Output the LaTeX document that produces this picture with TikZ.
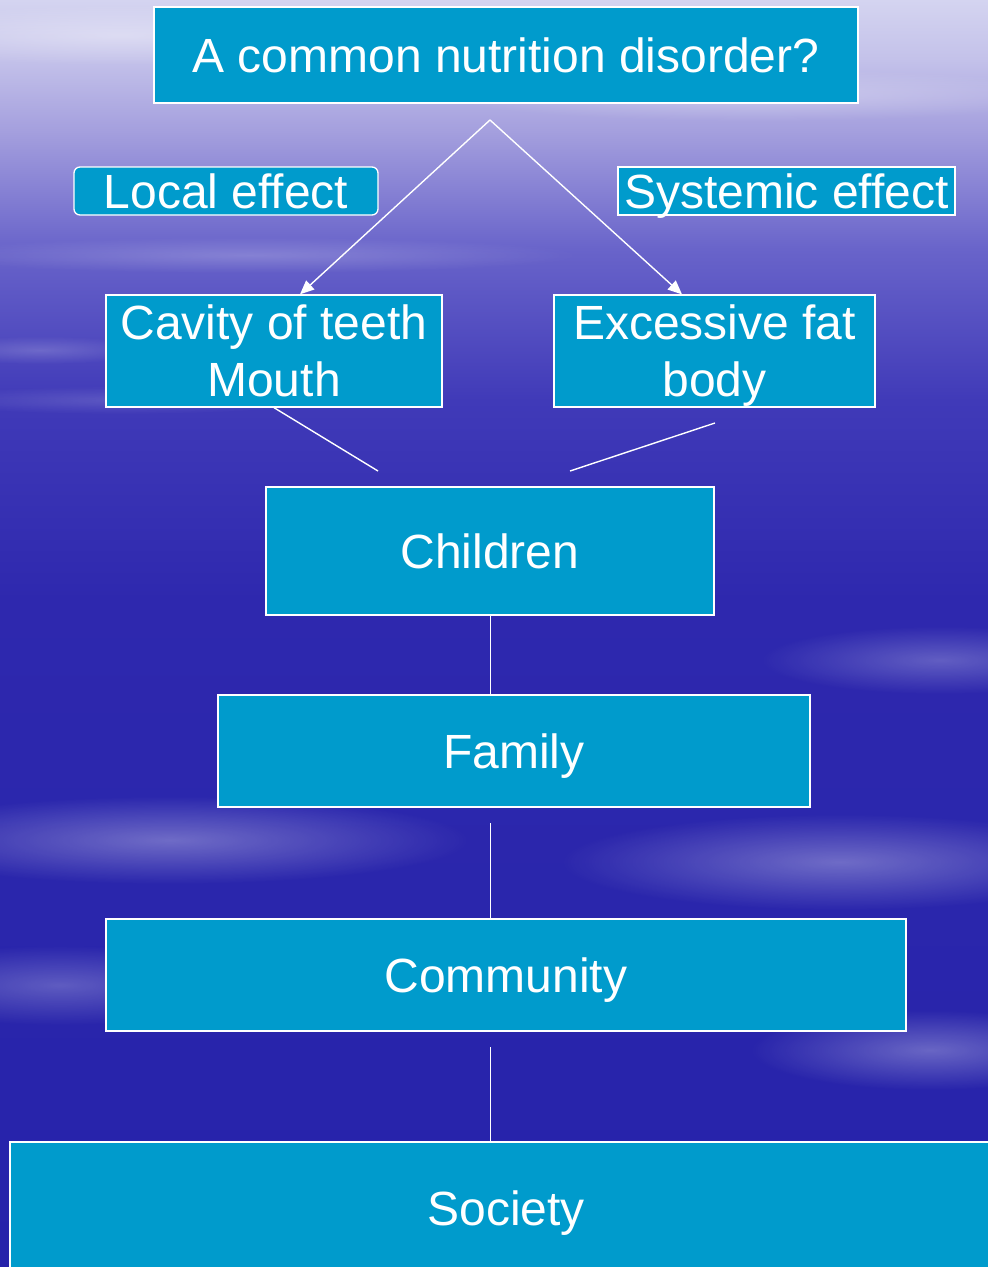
\documentclass[tikz,border=0pt]{standalone}
\usepackage{fontspec}
\setmainfont{Liberation Sans}
\usetikzlibrary{arrows.meta,fadings}
\definecolor{boxblue}{RGB}{0,155,204}
\definecolor{bgA}{RGB}{212,212,240}
\definecolor{bgB}{RGB}{196,194,234}
\definecolor{bgC}{RGB}{165,160,222}
\definecolor{bgD}{RGB}{105,100,202}
\definecolor{bgE}{RGB}{64,58,184}
\definecolor{bgF}{RGB}{46,40,174}
\definecolor{bgG}{RGB}{42,38,172}
\definecolor{bgH}{RGB}{38,34,170}
\pgfdeclareverticalshading{skybg}{100bp}{color(0bp)=(bgH); color(25bp)=(bgH); color(39.5bp)=(bgG); color(51.3bp)=(bgF); color(59.2bp)=(bgE); color(65.2bp)=(bgD); color(69.9bp)=(bgC); color(72.7bp)=(bgB); color(75bp)=(bgA); color(100bp)=(bgA)}
\tikzfading[name=softcloud, inner color=transparent!0, outer color=transparent!100]
\tikzset{
  box/.style={draw=white, line width=1.3pt, fill=boxblue, text=white, inner sep=0pt, align=center,
    text depth=0pt, font=\fontsize{48}{57}\selectfont},
  link/.style={draw=white, line width=1.4pt},
  cloud/.style={fill=white, path fading=softcloud}
}
\begin{document}
\begin{tikzpicture}[x=1pt,y=-1pt]
\useasboundingbox (0,0) rectangle (988,1267);
\shade[shading=skybg] (0,0) rectangle (988,1267);
% soft cloud streaks
\fill[cloud, opacity=0.35] (120,35) ellipse (260 and 30);
\fill[cloud, opacity=0.3] (760,95) ellipse (320 and 26);
\fill[cloud, opacity=0.2] (250,255) ellipse (330 and 18);
\fill[cloud, opacity=0.18] (40,350) ellipse (110 and 14);
\fill[cloud, opacity=0.15] (120,400) ellipse (200 and 14);
\fill[cloud, opacity=0.25] (940,660) ellipse (180 and 34);
\fill[cloud, opacity=0.32] (170,840) ellipse (300 and 44);
\fill[cloud, opacity=0.32] (840,862) ellipse (280 and 48);
\fill[cloud, opacity=0.25] (60,985) ellipse (200 and 40);
\fill[cloud, opacity=0.3] (930,1050) ellipse (180 and 40);

\node[box, minimum width=704, minimum height=96] (title) at (506,55) {A common nutrition disorder?};
\node[box, rounded corners=6pt, minimum width=304, minimum height=48] (local) at (226,191) {Local effect};
\node[box, minimum width=337, minimum height=48] (systemic) at (786.5,191) {Systemic effect};
\node[box, minimum width=336, minimum height=112] (cavity) at (274,351) {Cavity of teeth\\Mouth};
\node[box, minimum width=321, minimum height=112] (excess) at (714.5,351) {Excessive fat\\body};
\node[box, minimum width=448, minimum height=128] (children) at (490,551) {Children};
\node[box, minimum width=592, minimum height=112] (family) at (514,751) {Family};
\node[box, minimum width=800, minimum height=112] (community) at (506,975) {Community};
\node[box, minimum width=992, minimum height=132] (society) at (506,1208) {Society};

\coordinate (apex) at (490,120);
\coordinate (lend) at (378,471);
\coordinate (rstart) at (715,423);
\coordinate (rend) at (570,471);
\coordinate (famlow) at (490,823);
\coordinate (comlow) at (490,1047);

\draw[link, -{Triangle[length=14pt,width=12pt]}] (apex) -- ([xshift=26pt]cavity.north);
\draw[link, -{Triangle[length=14pt,width=12pt]}] (apex) -- ([xshift=-32.5pt]excess.north);
\draw[link] (cavity.south) -- (lend);
\draw[link] (rstart) -- (rend);
\draw[link, line width=1pt] (children.south) -- (children.south |- family.north);
\draw[link, line width=1pt] (famlow) -- (famlow |- community.north);
\draw[link, line width=1pt] (comlow) -- (comlow |- society.north);
\end{tikzpicture}
\end{document}
